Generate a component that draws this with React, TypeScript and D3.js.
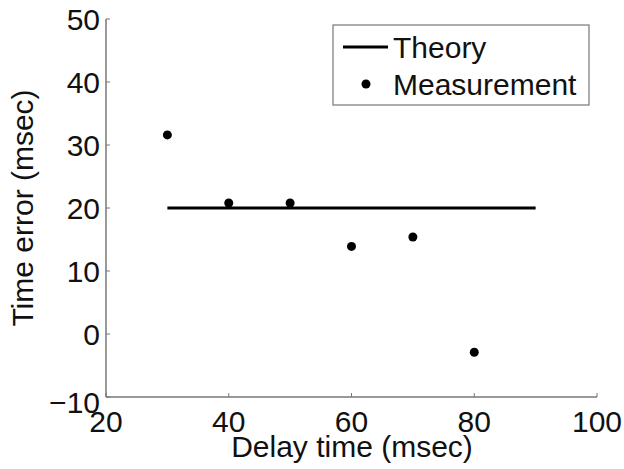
import React from "react";
import * as d3 from "d3";

const delays = [30, 40, 50, 60, 70, 80];
const measured = [31.6, 20.8, 20.8, 13.9, 15.4, -2.9];
const theoryX = [30, 90];
const theoryY = [20, 20];
const xTicks = [20, 40, 60, 80, 100];
const yTicks = [-10, 0, 10, 20, 30, 40, 50];

const W = 624, H = 469;
const font = "'Liberation Sans', Arial, Helvetica, sans-serif";
const FS = 30;

export default function App() {
  const x = d3.scaleLinear().domain([20, 100]).range([106, 597]);
  const y = d3.scaleLinear().domain([-10, 50]).range([397, 19]);
  const line = d3.line<number>().x((_, i) => x(theoryX[i])).y((d) => y(d));
  const axisColor = "#777";
  return (
    <svg width={W} height={H} style={{ position: "absolute", left: 0, top: 0, background: "#fff" }}>
      <rect width={W} height={H} fill="#fff" />
      <line x1={x(20)} x2={x(20)} y1={y(50)} y2={y(-10)} stroke={axisColor} strokeWidth={1.5} />
      <line x1={x(20)} x2={x(100)} y1={y(-10)} y2={y(-10)} stroke={axisColor} strokeWidth={1.5} />
      {yTicks.map((t) => (
        <g key={"y" + t}>
          <line x1={x(20)} x2={x(20) + 4} y1={y(t)} y2={y(t)} stroke={axisColor} strokeWidth={1} />
          <text x={x(20) - 6} y={y(t) + (t === -10 ? 5 : 0)} dy="0.36em" textAnchor="end" fontFamily={font} fontSize={FS} fill="#111">
            {t < 0 ? "\u2212" + Math.abs(t) : t}
          </text>
        </g>
      ))}
      {xTicks.map((t) => (
        <g key={"x" + t}>
          <line x1={x(t)} x2={x(t)} y1={y(-10)} y2={y(-10) - 4} stroke={axisColor} strokeWidth={1} />
          <text x={x(t)} y={432} textAnchor="middle" fontFamily={font} fontSize={FS} fill="#111">
            {t}
          </text>
        </g>
      ))}
      <text x={352} y={457} textAnchor="middle" fontFamily={font} fontSize={FS} fill="#111">
        Delay time (msec)
      </text>
      <text transform={`translate(33,208) rotate(-90)`} textAnchor="middle" fontFamily={font} fontSize={FS} fill="#111">
        Time error (msec)
      </text>
      <path d={line(theoryY) || ""} stroke="#000" strokeWidth={3} fill="none" />
      {delays.map((d, i) => (
        <circle key={d} cx={x(d)} cy={y(measured[i])} r={4.5} fill="#000" />
      ))}
      <rect x={333} y={25} width={256} height={80} fill="#fff" stroke="#777" strokeWidth={1.2} />
      <line x1={343} x2={388} y1={47} y2={47} stroke="#000" strokeWidth={3} />
      <text x={393} y={58} fontFamily={font} fontSize={FS} fill="#111">Theory</text>
      <circle cx={366} cy={84} r={4.5} fill="#000" />
      <text x={393} y={95} fontFamily={font} fontSize={FS} fill="#111">Measurement</text>
    </svg>
  );
}
